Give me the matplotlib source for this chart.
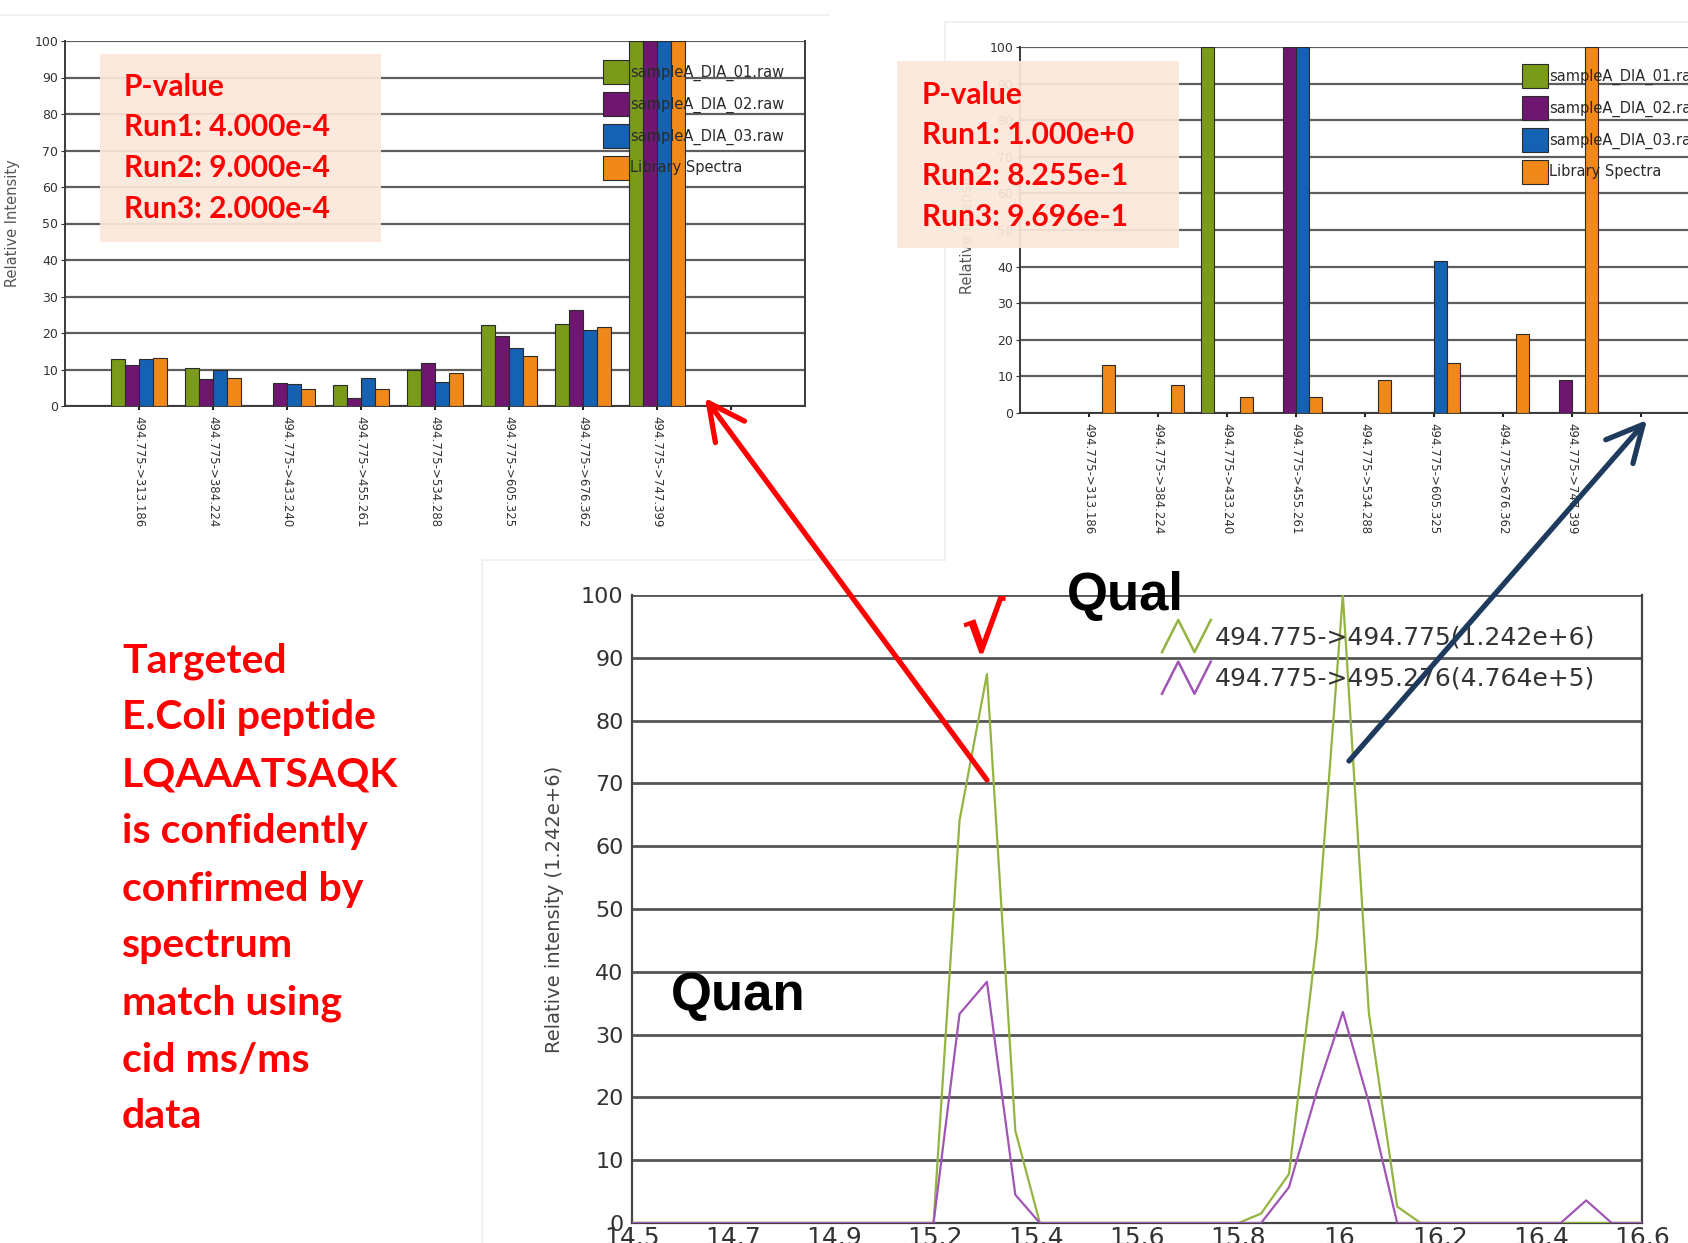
import numpy as np
import matplotlib
matplotlib.use("Agg")
import matplotlib.pyplot as plt
from matplotlib.patches import Rectangle, FancyArrowPatch
from matplotlib.lines import Line2D
from matplotlib.legend_handler import HandlerBase

# ---- data ----
transitions = ["494.775->313.186", "494.775->384.224", "494.775->433.240",
               "494.775->455.261", "494.775->534.288", "494.775->605.325",
               "494.775->676.362", "494.775->747.399"]
series = ["sampleA_DIA_01.raw", "sampleA_DIA_02.raw", "sampleA_DIA_03.raw", "Library Spectra"]
bar_colors = ["#7A9A1A", "#6E1670", "#1561B4", "#F0881A"]

# good match (left panel)
left_run1 = [13.0, 10.5, 0.0, 5.7, 10.0, 22.2, 22.5, 100]
left_run2 = [11.1, 7.5, 6.3, 2.1, 11.9, 19.3, 26.3, 100]
left_run3 = [13.0, 9.8, 6.0, 7.7, 6.7, 16.0, 20.7, 100]
left_lib = [13.1, 7.6, 4.6, 4.6, 9.1, 13.7, 21.6, 100]

# poor match (right panel)
right_run1 = [0, 0, 100, 0, 0, 0, 0, 0]
right_run2 = [0, 0, 0, 100, 0, 0, 0, 9.1]
right_run3 = [0, 0, 0, 100, 0, 41.4, 0, 0]
right_lib = [13.1, 7.6, 4.5, 4.5, 9.1, 13.7, 21.6, 100]

left_pvals = ["P-value", "Run1: 4.000e-4", "Run2: 9.000e-4", "Run3: 2.000e-4"]
right_pvals = ["P-value", "Run1: 1.000e+0", "Run2: 8.255e-1", "Run3: 9.696e-1"]

# chromatogram
rt = [14.5, 15.127, 15.181, 15.238, 15.297, 15.348, 15.761, 15.808, 15.866,
      15.924, 15.978, 16.032, 16.091, 16.140, 16.431, 16.484, 16.537, 16.6]
xic_main = [0, 0, 64.1, 87.4, 14.7, 0, 0, 1.5, 7.8, 45.3, 100, 33.5, 2.6, 0, 0, 0, 0, 0]
xic_iso = [0, 0, 33.3, 38.4, 4.5, 0, 0, 0, 5.7, 21.0, 33.6, 19.2, 0, 0, 0, 3.6, 0, 0]
xic_labels = ["494.775->494.775(1.242e+6)", "494.775->495.276(4.764e+5)"]
rt_ticklabels = ["14.5", "14.7", "14.9", "15.2", "15.4", "15.6", "15.8", "16", "16.2", "16.4", "16.6"]

side_text = ["Targeted", "E.Coli peptide", "LQAAATSAQK", "is confidently",
             "confirmed by", "spectrum", "match using", "cid ms/ms", "data"]

W, H = 1688, 1243


def fx(px):
    return px / W


def fy(py):
    return 1 - py / H


fig = plt.figure(figsize=(W / 100, H / 100), dpi=100)
fig.patch.set_facecolor("white")

# faint panel borders of the pasted screenshots
for xs, ys in [([0, 829], [15, 15]), ([945, 1688], [22, 22]), ([945, 945], [22, 560]),
               ([482, 945], [560, 560]), ([482, 482], [560, 1243])]:
    fig.add_artist(Line2D([fx(v) for v in xs], [fy(v) for v in ys], color="#EFEFEF", lw=1.2))


def bar_panel(rect, values, legend_xy, show_right):
    ax = fig.add_axes(rect)
    pos = np.arange(1, len(transitions) + 1)
    w = 0.19
    for k, (vals, col, name) in enumerate(zip(values, bar_colors, series)):
        ax.bar(pos + (k - 1.5) * w, vals, w, color=col, edgecolor="#2b2b2b",
               linewidth=0.8, label=name, zorder=3)
    ax.set_xlim(0, 10)
    ax.set_ylim(0, 100)
    ax.set_xticks(np.arange(1, 10))
    ax.set_xticklabels(transitions + [""], rotation=270, fontsize=8.5, color="#333333",
                       va="top", ha="center")
    ax.set_yticks(range(0, 101, 10))
    ax.tick_params(axis="y", labelsize=9, colors="#333333", length=3, pad=2)
    ax.tick_params(axis="x", length=3, pad=4, width=1.5, colors="#222222")
    for lab in ax.get_xticklabels():
        lab.set_color("#333333")
    ax.yaxis.grid(True, color="#5e5e5e", lw=1.6)
    ax.set_axisbelow(True)
    ax.spines["top"].set_visible(False)
    ax.spines["right"].set_visible(show_right)
    for s in ["left", "bottom", "right"]:
        ax.spines[s].set_color("#3a3a3a")
        ax.spines[s].set_linewidth(1.4)
    ax.set_ylabel("Relative Intensity", fontsize=10.5, color="#555555", labelpad=10)
    leg = ax.legend(loc="upper left", bbox_to_anchor=(fx(legend_xy[0]), fy(legend_xy[1])),
                    bbox_transform=fig.transFigure, frameon=False, fontsize=10.5,
                    handlelength=1.75, handleheight=2.15, labelspacing=0.55,
                    handletextpad=0.12, borderpad=0, borderaxespad=0)
    for t in leg.get_texts():
        t.set_color("#2a2a2a")
    return ax


bar_panel([fx(65), fy(406), 740 / W, 365 / H], [left_run1, left_run2, left_run3, left_lib],
          (603, 60), True)
bar_panel([fx(1020), fy(413), 690 / W, 366 / H], [right_run1, right_run2, right_run3, right_lib],
          (1522, 64), False)

# P-value boxes
for (x0, y0, x1, y1), lines, tx, ty in [((100, 54, 381, 242), left_pvals, 124, 87),
                                         ((897, 61, 1179, 248), right_pvals, 922, 95)]:
    fig.add_artist(Rectangle((fx(x0), fy(y1)), (x1 - x0) / W, (y1 - y0) / H,
                             transform=fig.transFigure, facecolor="#FCE8DA",
                             edgecolor="none", alpha=0.92, zorder=5))
    for i, line in enumerate(lines):
        fig.text(fx(tx), fy(ty + i * 40.5), line, fontsize=21.5, fontweight="bold",
                 family=["Lato", "DejaVu Sans"], color="#FF0000", va="center", ha="left", zorder=6)

# chromatogram panel
ax3 = fig.add_axes([fx(632), fy(1223), 1010 / W, 628 / H])
l1, = ax3.plot(rt, xic_main, color="#93B440", lw=1.6, label=xic_labels[0], zorder=3)
l2, = ax3.plot(rt, xic_iso, color="#A155B5", lw=1.6, label=xic_labels[1], zorder=3)
ax3.set_xlim(14.5, 16.6)
ax3.set_ylim(0, 100)
ax3.set_xticks(np.linspace(14.5, 16.6, len(rt_ticklabels)))
ax3.set_xticklabels(rt_ticklabels)
ax3.set_yticks(range(0, 101, 10))
ax3.tick_params(axis="x", labelsize=18, colors="#333333", length=0, pad=2)
ax3.tick_params(axis="y", labelsize=16, colors="#333333", length=0, pad=6)
ax3.yaxis.grid(True, color="#555555", lw=2.0)
ax3.set_axisbelow(True)
ax3.spines["top"].set_visible(False)
for s in ["left", "bottom", "right"]:
    ax3.spines[s].set_color("#444444")
    ax3.spines[s].set_linewidth(1.6)
ax3.set_ylabel("Relative intensity (1.242e+6)", fontsize=14, color="#444444", labelpad=12)


class ZigzagHandler(HandlerBase):
    def create_artists(self, legend, orig_handle, xdescent, ydescent, width, height, fontsize, trans):
        x0, y0 = -xdescent, -ydescent
        xs = [x0, x0 + width / 3, x0 + 2 * width / 3, x0 + width]
        ys = [y0, y0 + height, y0, y0 + height]
        ln = Line2D(xs, ys, color=orig_handle.get_color(), lw=1.8)
        ln.set_transform(trans)
        return [ln]


leg3 = ax3.legend(handles=[l1, l2], handler_map={Line2D: ZigzagHandler()},
                  loc="upper left", bbox_to_anchor=(fx(1162), fy(620)),
                  bbox_transform=fig.transFigure, frameon=False, fontsize=18,
                  handlelength=1.95, handleheight=1.6, labelspacing=0.38,
                  handletextpad=0.15, borderpad=0, borderaxespad=0)
for t in leg3.get_texts():
    t.set_color("#333333")

# annotations
fig.text(fx(1125), fy(596), "Qual", fontsize=38, fontweight="bold",
         family="Liberation Sans", color="black", ha="center", va="center", zorder=7)
fig.text(fx(738), fy(996), "Quan", fontsize=38, fontweight="bold",
         family="Liberation Sans", color="black", ha="center", va="center", zorder=7)
fig.text(fx(983), fy(633), "\u221a", fontsize=48, fontweight="bold",
         family="DejaVu Sans", color="#FF0000", ha="center", va="center", zorder=7)

for i, line in enumerate(side_text):
    fig.text(fx(122), fy(661 + i * 57), line, fontsize=29.5, fontweight="bold",
             family=["Lato", "DejaVu Sans"], color="#FF0000", ha="left", va="center")

# arrows pointing from the peaks to their spectra
for start, end, col in [((987, 780), (705, 398), "#FF0000"),
                        ((1349, 761), (1647, 420), "#1E3A5C")]:
    fig.add_artist(FancyArrowPatch((fx(start[0]), fy(start[1])), (fx(end[0]), fy(end[1])),
                                   transform=fig.transFigure,
                                   arrowstyle="->,head_length=1.3,head_width=0.65",
                                   mutation_scale=20, color=col, lw=3.8,
                                   shrinkA=0, shrinkB=0, zorder=8))

fig.savefig("out.png", dpi=100)
